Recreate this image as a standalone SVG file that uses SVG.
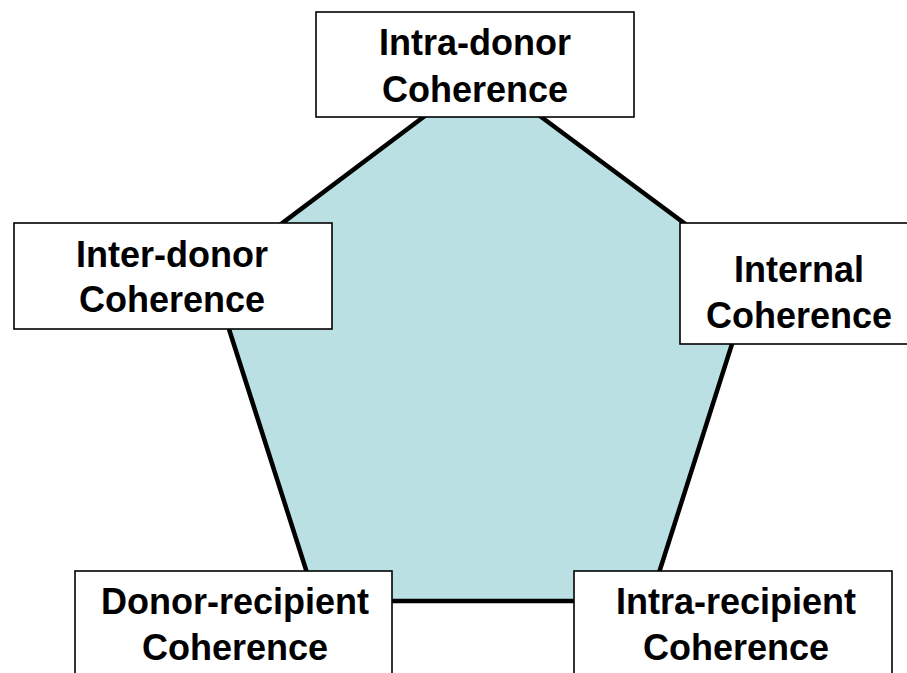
<svg xmlns="http://www.w3.org/2000/svg" width="907" height="673" viewBox="0 0 907 673">
<style>
.box{fill:#fff;stroke:#000;stroke-width:1.6}
.lbl{font-family:"Liberation Sans",Arial,sans-serif;font-weight:bold;font-size:36px;fill:#000;text-anchor:middle}
</style>
<rect x="0" y="0" width="907" height="673" fill="#fff"/>
<g id="connectors">
<polygon points="482,73 754,275 650,601 316,601 212,276" fill="#BBE0E3" stroke="#000" stroke-width="4.5" stroke-linejoin="miter"/>
</g>
<g id="intra-donor">
<rect class="box" x="316" y="12" width="318" height="105"/>
<text class="lbl" x="475" y="55">Intra-donor</text>
<text class="lbl" x="475" y="102">Coherence</text>
</g>
<g id="inter-donor">
<rect class="box" x="14" y="223" width="318" height="106"/>
<text class="lbl" x="172" y="267">Inter-donor</text>
<text class="lbl" x="172" y="312">Coherence</text>
</g>
<g id="internal">
<rect class="box" x="680" y="223" width="250" height="121"/>
<text class="lbl" x="799" y="282">Internal</text>
<text class="lbl" x="799" y="328">Coherence</text>
</g>
<g id="donor-recipient">
<rect class="box" x="75" y="571" width="317" height="120"/>
<text class="lbl" x="235" y="614">Donor-recipient</text>
<text class="lbl" x="235" y="660">Coherence</text>
</g>
<g id="intra-recipient">
<rect class="box" x="574" y="571" width="318" height="120"/>
<text class="lbl" x="736" y="614">Intra-recipient</text>
<text class="lbl" x="736" y="660">Coherence</text>
</g>
</svg>
